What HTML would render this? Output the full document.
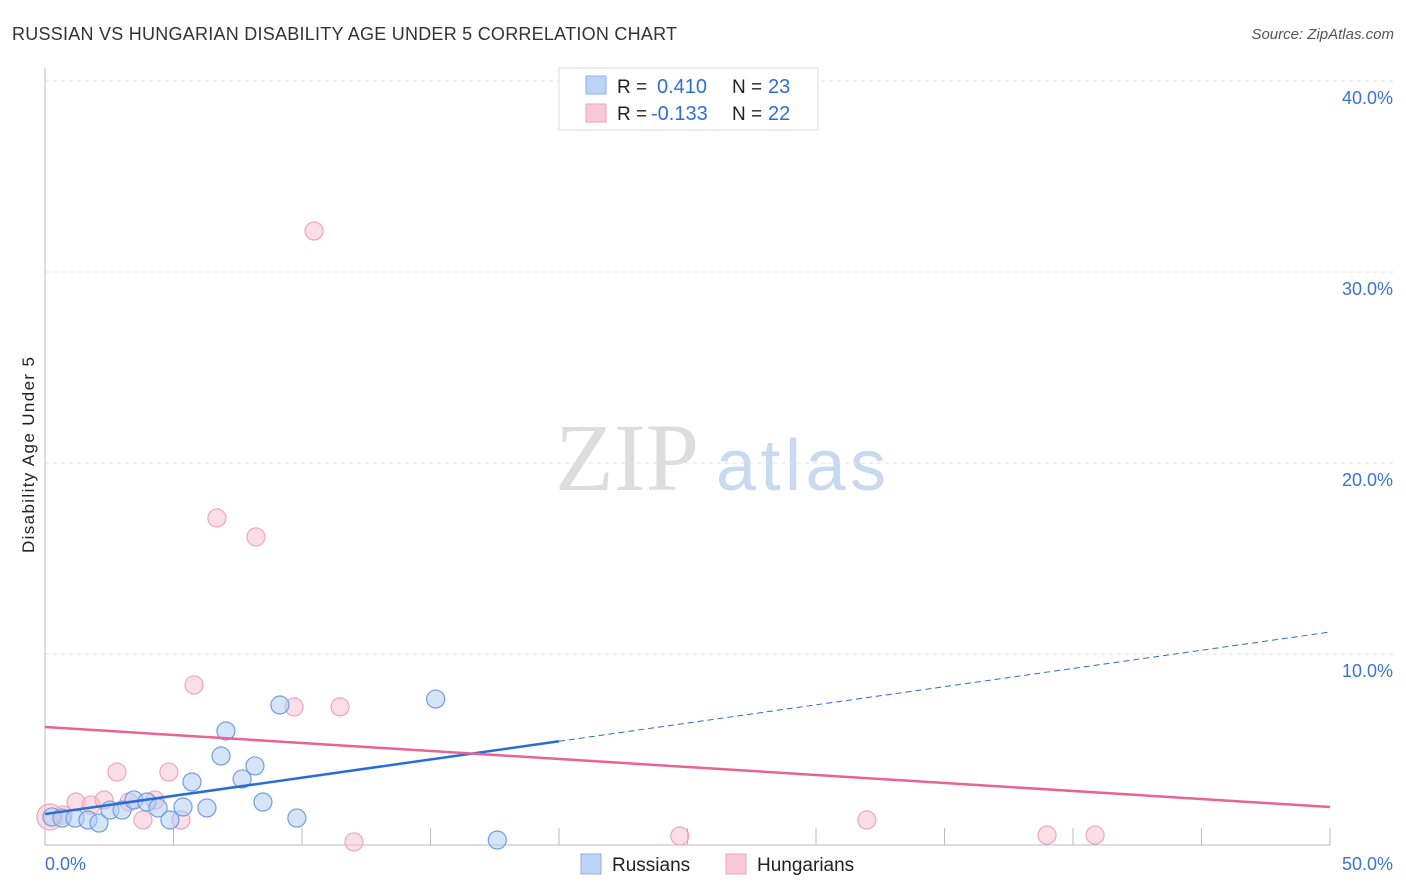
<!DOCTYPE html><html><head><meta charset="utf-8"><style>
body{margin:0;background:#fff;font-family:"Liberation Sans",sans-serif}
</style></head><body>
<svg id="c" width="1406" height="892" style="position:absolute;left:0;top:0">
<text x="12" y="40" font-size="18" fill="#333" textLength="665">RUSSIAN VS HUNGARIAN DISABILITY AGE UNDER 5 CORRELATION CHART</text>
<text x="1394" y="39" font-size="15" fill="#555" font-style="italic" text-anchor="end">Source: ZipAtlas.com</text>
<text x="34" y="553" font-size="17" fill="#222" textLength="196" transform="rotate(-90 34 553)">Disability Age Under 5</text>
<text x="555" y="490" font-size="96" fill="#ddd" font-family="Liberation Serif">ZIP</text>
<text x="716" y="490" font-size="72" fill="#c8d9f0" textLength="170">atlas</text>
<g id="grid"></g><g id="marks"></g>
<g xml:space="preserve">
<rect x="559" y="68" width="259" height="62" fill="#fff" stroke="#ddd"/>
<rect x="586" y="76" width="20" height="18" fill="#bcd4f5" stroke="#8ab0e8"/>
<rect x="586" y="104" width="20" height="18" fill="#f9c8d6" stroke="#eea5bb"/>
<text x="617" y="93" font-size="19" fill="#222">R = </text><text x="657" y="93" font-size="20" fill="#2f6fd0">0.410</text>
<text x="732" y="93" font-size="19" fill="#222">N = </text><text x="768" y="93" font-size="20" fill="#2f6fd0">23</text>
<text x="617" y="120" font-size="19" fill="#222">R = </text><text x="651" y="120" font-size="20" fill="#2f6fd0">-0.133</text>
<text x="732" y="120" font-size="19" fill="#222">N = </text><text x="768" y="120" font-size="20" fill="#2f6fd0">22</text>
</g>
<g>
<rect x="581" y="854" width="20" height="20" fill="#bcd4f5" stroke="#8ab0e8"/>
<text x="612" y="871" font-size="19" fill="#222">Russians</text>
<rect x="726" y="854" width="20" height="20" fill="#f9c8d6" stroke="#eea5bb"/>
<text x="757" y="871" font-size="19" fill="#222">Hungarians</text>
</g>
</svg>
<script>
const yTicks=[10,20,30,40];
const xTickLabels=["0.0%","50.0%"];
const rusX=[0.27,0.66,1.17,1.67,2.10,2.53,3.0,3.46,3.97,4.4,4.86,5.37,5.72,6.3,6.85,7.04,7.67,8.17,8.48,9.14,9.8,15.2,17.6];
const rusY=[1.47,1.41,1.41,1.31,1.15,1.83,1.83,2.36,2.25,1.94,1.31,1.99,3.30,1.94,4.66,5.97,3.46,4.14,2.25,7.33,1.41,7.64,0.26];
const hunX=[0.19,0.7,1.21,1.79,2.3,2.8,3.27,3.81,4.28,4.82,5.29,5.8,6.69,8.21,9.69,10.47,11.48,12.02,24.7,31.98,38.99,40.86];
const hunY=[1.47,1.57,2.25,2.09,2.36,3.82,2.25,1.31,2.36,3.82,1.31,8.38,17.12,16.13,7.23,32.15,7.23,0.16,0.47,1.31,0.52,0.52];
const rusTrend=[1.62,11.15];const hunTrend=[6.18,1.99];
const X=v=>45+v*25.7, Y=v=>845-v*19.1;
const NS="http://www.w3.org/2000/svg";
function mk(p,t,a){const e=document.createElementNS(NS,t);for(const k in a)e.setAttribute(k,a[k]);p.appendChild(e);return e;}
const g=document.getElementById('grid'),m=document.getElementById('marks');
yTicks.forEach(t=>{
 const l=mk(g,'line',{x1:45,x2:1394,y1:Y(t),y2:Y(t),stroke:'#e2e2e2','stroke-dasharray':'4,4'});
 
 
 const tx=mk(g,'text',{x:1393,y:Y(t)+23,'font-size':18,fill:'#3a74d0','text-anchor':'end'});tx.textContent=t.toFixed(1)+'%';
 
 
});
mk(g,'line',{x1:45,x2:45,y1:68,y2:845,stroke:'#bbb'});
mk(g,'line',{x1:45,x2:1330,y1:845,y2:845,stroke:'#bbb'});
for(let i=1;i<=10;i++){const t=mk(g,'line',{x1:X(i*5),x2:X(i*5),y1:828,y2:845,stroke:'#bbb'});
 
 }
const a=mk(g,'text',{x:45,y:870,'font-size':18,fill:'#3a74d0'});a.textContent=xTickLabels[0];


const b=mk(g,'text',{x:1393,y:870,'font-size':18,fill:'#3a74d0','text-anchor':'end'});b.textContent=xTickLabels[1];


hunX.forEach((x,i)=>{const c=mk(m,'circle',{cx:X(x),cy:Y(hunY[i]),r:i==0?13:9,fill:'rgba(249,190,208,0.5)',stroke:'#eea5bb','stroke-width':1.2});
 
 });
rusX.forEach((x,i)=>{const c=mk(m,'circle',{cx:X(x),cy:Y(rusY[i]),r:9,fill:'rgba(180,205,242,0.55)',stroke:'#6f9fe0','stroke-width':1.2});
 
 });
const xs=20;const ym=rusTrend[0]+(rusTrend[1]-rusTrend[0])*xs/50;
const l1=mk(m,'line',{x1:X(0),y1:Y(rusTrend[0]),x2:X(xs),y2:Y(ym),stroke:'#2a6cd6','stroke-width':2.5});


const l2=mk(m,'line',{x1:X(xs),y1:Y(ym),x2:X(50),y2:Y(rusTrend[1]),stroke:'#2a6cd6','stroke-width':1,'stroke-dasharray':'6,4'});


const l3=mk(m,'line',{x1:X(0),y1:Y(hunTrend[0]),x2:X(50),y2:Y(hunTrend[1]),stroke:'#e8648e','stroke-width':2.5});


</script></body></html>
